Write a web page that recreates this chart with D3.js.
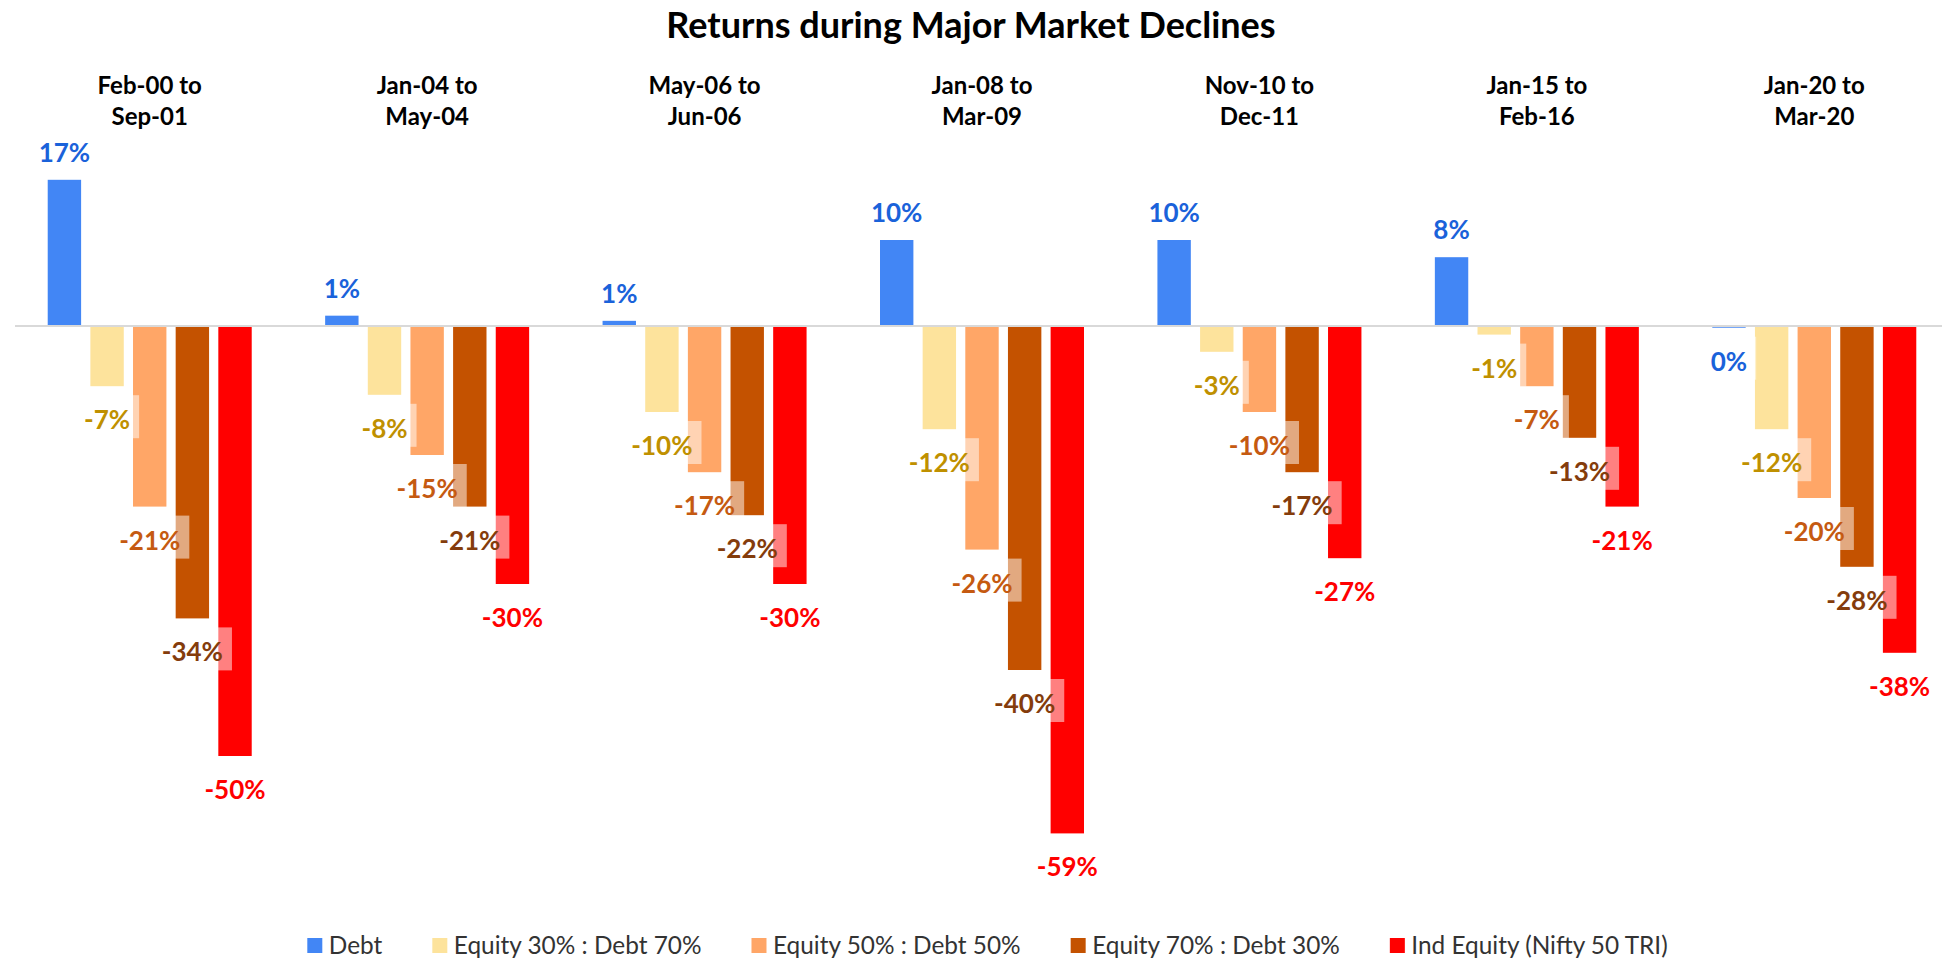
<!DOCTYPE html>
<html>
<head>
<meta charset="utf-8">
<script src="https://cdn.jsdelivr.net/npm/d3@7/dist/d3.min.js"></script>
<style>
  html, body { margin: 0; padding: 0; background: #ffffff; }
  svg { display: block; }
</style>
</head>
<body>
<svg id="chart" width="1942" height="961"></svg>
<script>
// Decline windows (x categories)
const categories = [
  "Feb-00 to Sep-01",
  "Jan-04 to May-04",
  "May-06 to Jun-06",
  "Jan-08 to Mar-09",
  "Nov-10 to Dec-11",
  "Jan-15 to Feb-16",
  "Jan-20 to Mar-20"
];

// Series names, in legend order
const seriesNames = [
  "Debt",
  "Equity 30% : Debt 70%",
  "Equity 50% : Debt 50%",
  "Equity 70% : Debt 30%",
  "Ind Equity (Nifty 50 TRI)"
];

// Returns in percent, one value per decline window
const debt      = [17, 1.2, 0.6, 10, 10, 8, -0.2];
const equity30  = [-7, -8, -10, -12, -3, -1, -12];
const equity50  = [-21, -15, -17, -26, -10, -7, -20];
const equity70  = [-34, -21, -22, -40, -17, -13, -28];
const niftyTRI  = [-50, -30, -30, -59, -27, -21, -38];

const seriesValues = [debt, equity30, equity50, equity70, niftyTRI];

const barColors   = ["#4286F5", "#FDE39C", "#FFA667", "#C45200", "#FF0000"];
const labelColors = ["#1A62DA", "#BF9000", "#C55A11", "#843C0C", "#FF0000"];

const svg = d3.select("#chart");
const W = 1942;

// Title
svg.append("text")
  .attr("x", 971)
  .attr("y", 37.5)
  .attr("text-anchor", "middle")
  .attr("font-family", "Lato, 'Open Sans', sans-serif")
  .attr("font-weight", 700)
  .attr("font-size", 36)
  .attr("fill", "#000")
  .text("Returns during Major Market Declines");

// Scales
const x0 = d3.scaleBand()
  .domain(categories)
  .range([11, 1953])
  .padding(0);

const bw = x0.bandwidth();
const x1 = d3.scaleBand()
  .domain(seriesNames)
  .range([bw / 2 - 102, bw / 2 + 102])
  .paddingInner(0.217)
  .paddingOuter(0);

const y = d3.scaleLinear()
  .domain([-65, 20])
  .range([885, 154]);

// Flattened bar records
const bars = [];
categories.forEach((c, ci) => {
  seriesNames.forEach((s, si) => {
    bars.push({ cat: c, series: s, si: si, value: seriesValues[si][ci] });
  });
});

const gBars = svg.append("g");
gBars.selectAll("rect")
  .data(bars)
  .join("rect")
  .attr("x", d => x0(d.cat) + x1(d.series))
  .attr("width", x1.bandwidth())
  .attr("y", d => Math.min(y(d.value), y(0)))
  .attr("height", d => Math.abs(y(d.value) - y(0)))
  .attr("fill", d => barColors[d.si]);

// Zero line
svg.append("line")
  .attr("x1", 15)
  .attr("x2", W)
  .attr("y1", y(0))
  .attr("y2", y(0))
  .attr("stroke", "#D9D9D9")
  .attr("stroke-width", 2);

// Category labels along the top, two lines each
const axisTop = d3.axisTop(x0).tickSize(0).tickPadding(0);
const gAxis = svg.append("g")
  .attr("transform", "translate(0,94)")
  .call(axisTop);
gAxis.select(".domain").remove();
gAxis.selectAll(".tick text")
  .attr("font-family", "Lato, 'Open Sans', sans-serif")
  .attr("font-weight", 700)
  .attr("font-size", 24)
  .attr("fill", "#000")
  .attr("dy", null)
  .attr("y", 0)
  .each(function(d) {
    const parts = d.split(" to ");
    const t = d3.select(this);
    t.text(null);
    t.append("tspan").attr("x", 0).attr("dy", 0).text(parts[0] + " to");
    t.append("tspan").attr("x", 0).attr("dy", 31).text(parts[1]);
  });

// Data labels with translucent white backing
const fmt = v => `${Math.round(v)}%`;
const gLabels = svg.append("g");
const lab = gLabels.selectAll("g.lab")
  .data(bars)
  .join("g")
  .attr("class", "lab");

lab.each(function(d) {
  const g = d3.select(this);
  const cx = x0(d.cat) + x1(d.series) + x1.bandwidth() / 2;
  const end = y(d.value);
  const boxH = 43;
  const boxTop = d.value >= 0 ? end - 9 - boxH : end + 9;
  const rect = g.append("rect")
    .attr("fill", "#ffffff")
    .attr("fill-opacity", 0.5);
  const txt = g.append("text")
    .attr("x", cx)
    .attr("y", boxTop + 34)
    .attr("text-anchor", "middle")
    .attr("font-family", "Lato, 'Open Sans', sans-serif")
    .attr("font-weight", 700)
    .attr("font-size", 26)
    .attr("fill", labelColors[d.si])
    .text(fmt(d.value));
  const tw = txt.node().getComputedTextLength();
  rect.attr("x", cx - tw / 2 - 9)
    .attr("y", boxTop)
    .attr("width", tw + 18)
    .attr("height", boxH);
});

// Legend
const gLegend = svg.append("g");
let cursor = 0;
seriesNames.forEach((s, i) => {
  const g = gLegend.append("g");
  g.append("rect")
    .attr("x", cursor)
    .attr("y", 938)
    .attr("width", 15)
    .attr("height", 15)
    .attr("fill", barColors[i]);
  const t = g.append("text")
    .attr("x", cursor + 21.5)
    .attr("y", 954)
    .attr("font-family", "Lato, 'Open Sans', sans-serif")
    .attr("font-size", 24.4)
    .attr("fill", "#333")
    .text(s);
  const tw = t.node().getComputedTextLength();
  cursor += 21.5 + tw + 50;
});
const legendW = cursor - 50;
gLegend.attr("transform", `translate(${987.5 - legendW / 2},0)`);
</script>
</body>
</html>
